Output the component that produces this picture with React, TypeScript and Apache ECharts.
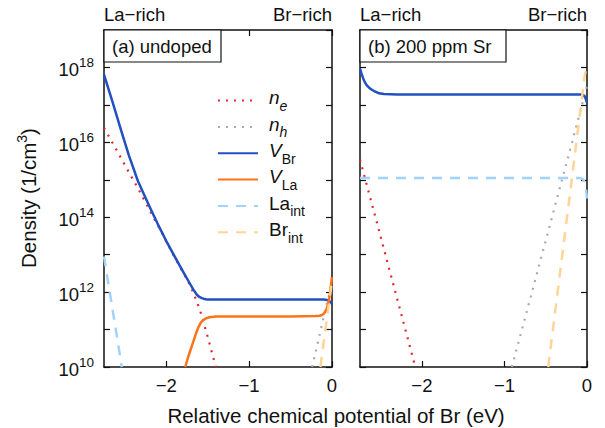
import React, { useEffect, useRef } from 'react';
import * as echarts from 'echarts';

// Axis ranges: x = relative chemical potential of Br (eV), y = log10(density / cm^-3)
const X_MIN = -2.75;
const X_MAX = 0;
const Y_MIN = 10;
const Y_MAX = 19;
const xTickValues = [-2, -1, 0];

// ---- Panel (a) undoped : y values are log10 of density ----
const aNeX = [-2.75, -2.6, -2.45, -2.34, -2.24, -2.15, -2.05, -2.0, -1.9, -1.8, -1.72, -1.67, -1.63, -1.59, -1.56, -1.53, -1.49, -1.46, -1.43, -1.4];
const aNeY = [16.39, 15.8, 15.2, 14.77, 14.36, 13.98, 13.58, 13.35, 12.94, 12.54, 12.22, 11.97, 11.74, 11.5, 11.28, 11.04, 10.73, 10.48, 10.24, 10.0];
const aNhX = [-0.24, -0.1, 0];
const aNhY = [10.0, 11.33, 12.25];
const aVBrX = [-2.75, -2.65, -2.54, -2.45, -2.34, -2.2, -2.1, -2.0, -1.9, -1.8, -1.72, -1.67, -1.63, -1.6, -1.57, -1.55, -1.52, -1.5, -1.4, -1.0, -0.5, -0.1, -0.06, -0.03, -0.01, 0];
const aVBrY = [17.81, 17.1, 16.29, 15.65, 14.96, 14.28, 13.81, 13.37, 12.96, 12.56, 12.25, 12.06, 11.93, 11.87, 11.84, 11.825, 11.81, 11.805, 11.8, 11.8, 11.8, 11.8, 11.79, 11.76, 11.71, 11.68];
const aVLaX = [-1.77, -1.73, -1.68, -1.64, -1.61, -1.58, -1.55, -1.52, -1.48, -1.4, -1.0, -0.5, -0.2, -0.15, -0.12, -0.1, -0.08, -0.06, -0.04, -0.03, -0.02, -0.01, 0];
const aVLaY = [10.0, 10.3, 10.63, 10.9, 11.07, 11.19, 11.26, 11.3, 11.33, 11.35, 11.35, 11.35, 11.36, 11.37, 11.39, 11.42, 11.48, 11.58, 11.75, 11.88, 12.05, 12.24, 12.4];
const aLaIntX = [-2.75, -2.535];
const aLaIntY = [12.95, 10.0];
const aBrIntX = [-0.14, 0];
const aBrIntY = [10.0, 12.3];

// ---- Panel (b) 200 ppm Sr ----
const bNeX = [-2.75, -2.5, -2.08];
const bNeY = [15.54, 13.48, 10.0];
const bNhX = [-0.91, -0.34, 0];
const bNhY = [10.0, 14.69, 17.5];
const bVBrX = [-2.75, -2.73, -2.71, -2.69, -2.67, -2.64, -2.61, -2.58, -2.55, -2.52, -2.46, -2.3, -1.5, -0.8, -0.1, -0.07, -0.05, -0.03, -0.02, -0.01, 0];
const bVBrY = [17.97, 17.82, 17.7, 17.6, 17.53, 17.46, 17.41, 17.37, 17.34, 17.31, 17.29, 17.28, 17.28, 17.28, 17.28, 17.275, 17.26, 17.23, 17.19, 17.13, 17.06];
const bLaIntX = [-2.75, -1.5, -0.1, -0.06, -0.04, -0.025, -0.012, 0];
const bLaIntY = [15.05, 15.05, 15.05, 15.03, 14.98, 14.9, 14.75, 14.5];
const bBrIntX = [-0.47, -0.21, -0.03, 0];
const bBrIntY = [10.0, 14.56, 17.75, 18.1];

const seriesNames = ['ne', 'nh', 'VBr', 'VLa', 'Laint', 'Brint'];
const legendLabels: Record<string, string> = {
  ne: '{i|n}{si|e}',
  nh: '{i|n}{si|h}',
  VBr: '{i|V}{s|Br}',
  VLa: '{i|V}{s|La}',
  Laint: '{r|La}{s|int}',
  Brint: '{r|Br}{s|int}',
};

const FONT = '"Liberation Sans", Arial, Helvetica, sans-serif';
const TXT = '#111';

const styles: Record<string, any> = {
  ne: { color: '#e3262b', width: 2.2, type: [2, 6] },
  nh: { color: '#aaaaaa', width: 2.2, type: [2, 6] },
  VBr: { color: '#2150c0', width: 2.5, type: 'solid' },
  VLa: { color: '#fb7419', width: 2.5, type: 'solid' },
  Laint: { color: '#a3d2f8', width: 2.5, type: [10, 8] },
  Brint: { color: '#ffd495', width: 2.5, type: [10, 8] },
};

const zip = (xs: number[], ys: number[]) => xs.map((x, i) => [x, ys[i]]);

const panelA: Record<string, number[][]> = {
  ne: zip(aNeX, aNeY),
  nh: zip(aNhX, aNhY),
  VBr: zip(aVBrX, aVBrY),
  VLa: zip(aVLaX, aVLaY),
  Laint: zip(aLaIntX, aLaIntY),
  Brint: zip(aBrIntX, aBrIntY),
};
const panelB: Record<string, number[][]> = {
  ne: zip(bNeX, bNeY),
  nh: zip(bNhX, bNhY),
  VBr: zip(bVBrX, bVBrY),
  Laint: zip(bLaIntX, bLaIntY),
  Brint: zip(bBrIntX, bBrIntY),
};

export default function App() {
  const ref = useRef<HTMLDivElement>(null);
  useEffect(() => {
    if (!ref.current) return;
    const chart = echarts.init(ref.current, undefined, { renderer: 'svg' });

    const grids = [
      { left: 104, top: 30, width: 228, height: 337 },
      { left: 360, top: 30, width: 227, height: 337 },
    ];
    const axisLine = { show: true, onZero: false, lineStyle: { color: TXT, width: 1.5 } };
    const tick = { show: true, inside: true, length: 6, lineStyle: { color: TXT, width: 1.2 } };

    const xAxes: any[] = [];
    const yAxes: any[] = [];
    [0, 1].forEach((g) => {
      xAxes.push({
        type: 'value', gridIndex: g, position: 'bottom', min: X_MIN, max: X_MAX,
        axisLine, splitLine: { show: false },
        axisTick: { ...tick, customValues: xTickValues },
        axisLabel: {
          show: true, customValues: xTickValues, margin: 9, fontSize: 18.5, fontFamily: FONT, color: TXT,
          formatter: (v: number) => (v < 0 ? '\u2212' + Math.abs(v) : String(v)),
        },
      });
      xAxes.push({
        type: 'value', gridIndex: g, position: 'top', min: X_MIN, max: X_MAX,
        axisLine, splitLine: { show: false },
        axisTick: { ...tick, customValues: xTickValues },
        axisLabel: { show: false },
      });
      yAxes.push({
        type: 'value', gridIndex: g, position: 'left', min: Y_MIN, max: Y_MAX, interval: 1,
        axisLine, splitLine: { show: false }, axisTick: tick,
        axisLabel: {
          show: g === 0, margin: 10, fontFamily: FONT, color: TXT,
          formatter: (v: number) => (v % 2 === 0 && v < 19 ? `{b|10}{s|${v}}` : ''),
          rich: {
            b: { fontSize: 18.5, fontFamily: FONT, color: TXT, verticalAlign: 'bottom' },
            s: { fontSize: 13.5, fontFamily: FONT, color: TXT, verticalAlign: 'top', padding: [0, 0, 9.5, 0] },
          },
        },
      });
      yAxes.push({
        type: 'value', gridIndex: g, position: 'right', min: Y_MIN, max: Y_MAX, interval: 1,
        axisLine, splitLine: { show: false }, axisTick: tick, axisLabel: { show: false },
      });
    });

    const series: any[] = [];
    [panelA, panelB].forEach((panel, g) => {
      seriesNames.forEach((name) => {
        if (!panel[name]) return;
        const st = styles[name];
        series.push({
          type: 'line', name, data: panel[name],
          xAxisIndex: g * 2, yAxisIndex: g * 2,
          symbol: 'none', showSymbol: false, smooth: false,
          lineStyle: { color: st.color, width: st.width, type: st.type, join: 'round' },
          itemStyle: { color: st.color },
          emphasis: { disabled: true },
        });
      });
    });

    const legendRich = {
      i: { fontSize: 19, fontStyle: 'italic', fontFamily: FONT, color: TXT, verticalAlign: 'top' },
      r: { fontSize: 19, fontFamily: FONT, color: TXT, verticalAlign: 'top' },
      si: { fontSize: 14, fontStyle: 'italic', fontFamily: FONT, color: TXT, verticalAlign: 'top', padding: [10.5, 0, 0, 0] },
      s: { fontSize: 14, fontFamily: FONT, color: TXT, verticalAlign: 'top', padding: [10.5, 0, 0, 0] },
    };
    const legends = seriesNames.map((name, i) => ({
      data: [name], left: 217, top: 103.3 + 26.35 * i - 15, orient: 'horizontal', padding: 0,
      itemWidth: 40, itemHeight: 30, selectedMode: false,
      itemStyle: { color: 'rgba(0,0,0,0)', borderWidth: 0, borderColor: 'rgba(0,0,0,0)' },
      formatter: (n: string) => legendLabels[n],
      textStyle: { fontFamily: FONT, fontSize: 19, color: TXT, padding: [0, 0, 0, 6], rich: legendRich },
    }));

    const topLabel = (text: string, x: number, align: string) => ({
      type: 'text', x, y: 14, z: 20,
      style: { text, fontSize: 18.5, fontFamily: FONT, fill: TXT, align, verticalAlign: 'middle' },
    });
    const boxLabel = (text: string, x: number, w: number) => ({
      type: 'group', z: 30,
      children: [
        { type: 'rect', shape: { x, y: 30, width: w, height: 32 }, style: { fill: '#fff', stroke: TXT, lineWidth: 1.2 }, z: 30 },
        { type: 'text', x: x + 8, y: 46.5, z: 31, style: { text, fontSize: 18.5, fontFamily: FONT, fill: TXT, align: 'left', verticalAlign: 'middle' } },
      ],
    });

    chart.setOption({
      animation: false,
      backgroundColor: '#fff',
      grid: grids,
      xAxis: xAxes,
      yAxis: yAxes,
      series,
      legend: legends,
      graphic: [
        topLabel('La\u2212rich', 104, 'left'),
        topLabel('Br\u2212rich', 332, 'right'),
        topLabel('La\u2212rich', 360, 'left'),
        topLabel('Br\u2212rich', 587, 'right'),
        boxLabel('(a) undoped', 104, 117),
        boxLabel('(b) 200 ppm Sr', 360, 146),
        {
          type: 'text', x: 336, y: 415, z: 20,
          style: { text: 'Relative chemical potential of Br (eV)', fontSize: 20.5, fontFamily: FONT, fill: TXT, align: 'center', verticalAlign: 'middle' },
        },
        {
          type: 'text', x: 27, y: 198, rotation: Math.PI / 2, z: 20,
          style: {
            text: '{t|Density (1/cm}{s|3}{t|)}', align: 'center', verticalAlign: 'middle', fill: TXT,
            rich: {
              t: { fontSize: 20.5, fontFamily: FONT, fill: TXT, color: TXT, verticalAlign: 'bottom' },
              s: { fontSize: 14, fontFamily: FONT, fill: TXT, color: TXT, verticalAlign: 'top', padding: [0, 0, 10, 0] },
            },
          },
        },
      ],
    });
    return () => chart.dispose();
  }, []);
  return <div ref={ref} style={{ position: 'fixed', left: 0, top: 0, width: 605, height: 428, background: '#fff' }} />;
}
